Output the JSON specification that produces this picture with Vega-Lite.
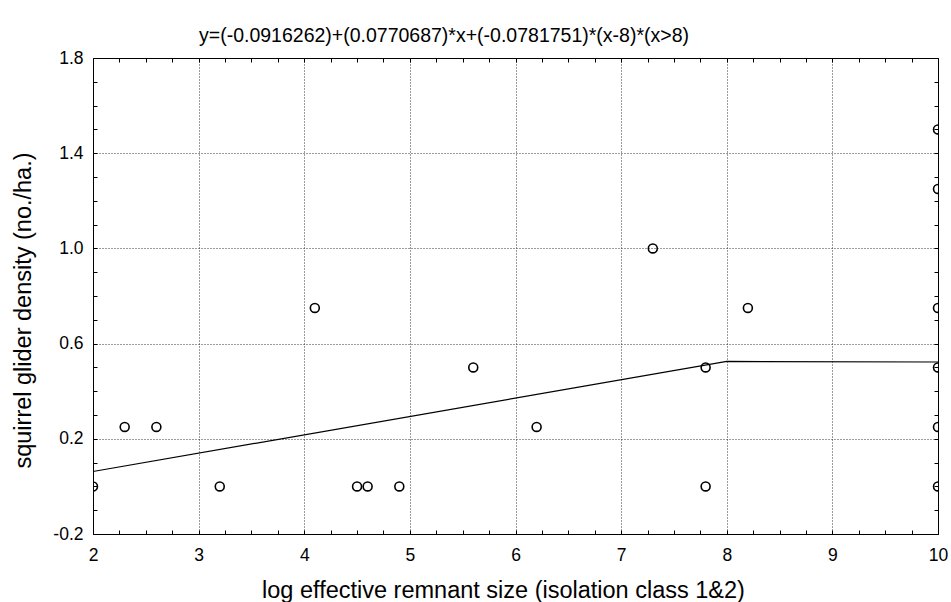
{
  "$schema": "https://vega.github.io/schema/vega-lite/v6.json",
  "autosize": {"type": "none"},
  "padding": {"left": 93, "top": 58, "right": 13, "bottom": 68},
  "width": 845,
  "height": 476,
  "background": "white",
  "config": {
    "font": "Liberation Sans",
    "view": {"stroke": "#000", "strokeWidth": 1},
    "axis": {"labelColor": "#000", "titleColor": "#000", "tickColor": "#000", "titleFontWeight": "normal", "labelFont": "Liberation Sans", "titleFont": "Liberation Sans"}
  },
  "title": {
    "text": "y=(-0.0916262)+(0.0770687)*x+(-0.0781751)*(x-8)*(x>8)",
    "fontSize": 19.5,
    "fontWeight": "normal",
    "font": "Liberation Sans",
    "color": "#000",
    "anchor": "middle",
    "dx": -71.5,
    "baseline": "alphabetic",
    "offset": -12
  },
  "datasets": {
    "obs": [
      {"x": 2, "y": 0},
      {"x": 2.3, "y": 0.25},
      {"x": 2.6, "y": 0.25},
      {"x": 3.2, "y": 0},
      {"x": 4.1, "y": 0.75},
      {"x": 4.5, "y": 0},
      {"x": 4.6, "y": 0},
      {"x": 4.9, "y": 0},
      {"x": 5.6, "y": 0.5},
      {"x": 6.2, "y": 0.25},
      {"x": 7.3, "y": 1.0},
      {"x": 7.8, "y": 0.5},
      {"x": 7.8, "y": 0},
      {"x": 8.2, "y": 0.75},
      {"x": 10, "y": 1.5},
      {"x": 10, "y": 1.25},
      {"x": 10, "y": 0.75},
      {"x": 10, "y": 0.5},
      {"x": 10, "y": 0.25},
      {"x": 10, "y": 0}
    ],
    "fit": [
      {"x": 2, "y": 0.0625112},
      {"x": 8, "y": 0.5249234},
      {"x": 10, "y": 0.5227106}
    ]
  },
  "layer": [
    {
      "data": {"name": "obs"},
      "mark": {"type": "point", "shape": "circle", "filled": false, "stroke": "#000", "strokeWidth": 1.6, "size": 80, "clip": true, "opacity": 1},
      "encoding": {
        "x": {
          "field": "x", "type": "quantitative",
          "scale": {"domain": [2, 10], "nice": false, "zero": false},
          "axis": {
            "orient": "bottom",
            "title": "log effective remnant size (isolation class 1&2)",
            "titleFontSize": 23.5,
            "titleX": 410,
            "titleY": 63,
            "titleAlign": "center",
            "titleAnchor": null,
            "titleBaseline": "alphabetic",
            "values": [2, 2.25, 2.5, 2.75, 3, 3.25, 3.5, 3.75, 4, 4.25, 4.5, 4.75, 5, 5.25, 5.5, 5.75, 6, 6.25, 6.5, 6.75, 7, 7.25, 7.5, 7.75, 8, 8.25, 8.5, 8.75, 9, 9.25, 9.5, 9.75, 10],
            "labelExpr": "datum.value % 1 === 0 ? format(datum.value, 'd') : ''",
            "labelFontSize": 17.5,
            "labelFlush": false,
            "labelOverlap": false,
            "labelPadding": 16.5,
            "tickSize": -4,
            "domain": false,
            "grid": true,
            "gridColor": "#222",
            "gridDash": [1, 2],
            "gridWidth": 1,
            "gridOpacity": {"condition": {"test": "datum.value % 1 === 0 && datum.value > 2 && datum.value < 10", "value": 0.9}, "value": 0}
          }
        },
        "y": {
          "field": "y", "type": "quantitative",
          "scale": {"domain": [-0.2, 1.8], "nice": false, "zero": false},
          "axis": {
            "orient": "left",
            "title": "squirrel glider density (no./ha.)",
            "titleFontSize": 23.5,
            "titleX": -63,
            "titleY": 252,
            "titleAlign": "center",
            "titleAnchor": null,
            "titleBaseline": "alphabetic",
            "titleAngle": -90,
            "values": [-0.2, -0.1, 0, 0.1, 0.2, 0.3, 0.4, 0.5, 0.6, 0.7, 0.8, 0.9, 1.0, 1.1, 1.2, 1.3, 1.4, 1.5, 1.6, 1.7, 1.8],
            "labelExpr": "(round(datum.value * 10) + 2) % 4 === 0 ? replace(format(datum.value, '.1f'), '\u2212', '-') : ''",
            "labelFontSize": 17.5,
            "labelFlush": false,
            "labelOverlap": false,
            "labelPadding": 14,
            "tickSize": -4,
            "domain": false,
            "grid": true,
            "gridColor": "#222",
            "gridDash": [1, 2],
            "gridWidth": 1,
            "gridOpacity": {"condition": {"test": "(round(datum.value * 10) + 2) % 4 === 0 && datum.value > -0.15 && datum.value < 1.75", "value": 0.9}, "value": 0}
          }
        }
      }
    },
    {
      "data": {"name": "fit"},
      "mark": {"type": "line", "stroke": "#000", "strokeWidth": 1.2},
      "encoding": {
        "x": {
          "field": "x", "type": "quantitative",
          "scale": {"domain": [2, 10], "nice": false, "zero": false},
          "axis": {
            "orient": "top",
            "title": null,
            "values": [2, 2.25, 2.5, 2.75, 3, 3.25, 3.5, 3.75, 4, 4.25, 4.5, 4.75, 5, 5.25, 5.5, 5.75, 6, 6.25, 6.5, 6.75, 7, 7.25, 7.5, 7.75, 8, 8.25, 8.5, 8.75, 9, 9.25, 9.5, 9.75, 10],
            "labels": false,
            "tickSize": -4,
            "domain": false,
            "grid": false
          }
        },
        "y": {
          "field": "y", "type": "quantitative",
          "scale": {"domain": [-0.2, 1.8], "nice": false, "zero": false},
          "axis": {
            "orient": "right",
            "title": null,
            "values": [-0.2, -0.1, 0, 0.1, 0.2, 0.3, 0.4, 0.5, 0.6, 0.7, 0.8, 0.9, 1.0, 1.1, 1.2, 1.3, 1.4, 1.5, 1.6, 1.7, 1.8],
            "labels": false,
            "tickSize": -4,
            "domain": false,
            "grid": false
          }
        }
      }
    }
  ],
  "resolve": {"axis": {"x": "independent", "y": "independent"}}
}
